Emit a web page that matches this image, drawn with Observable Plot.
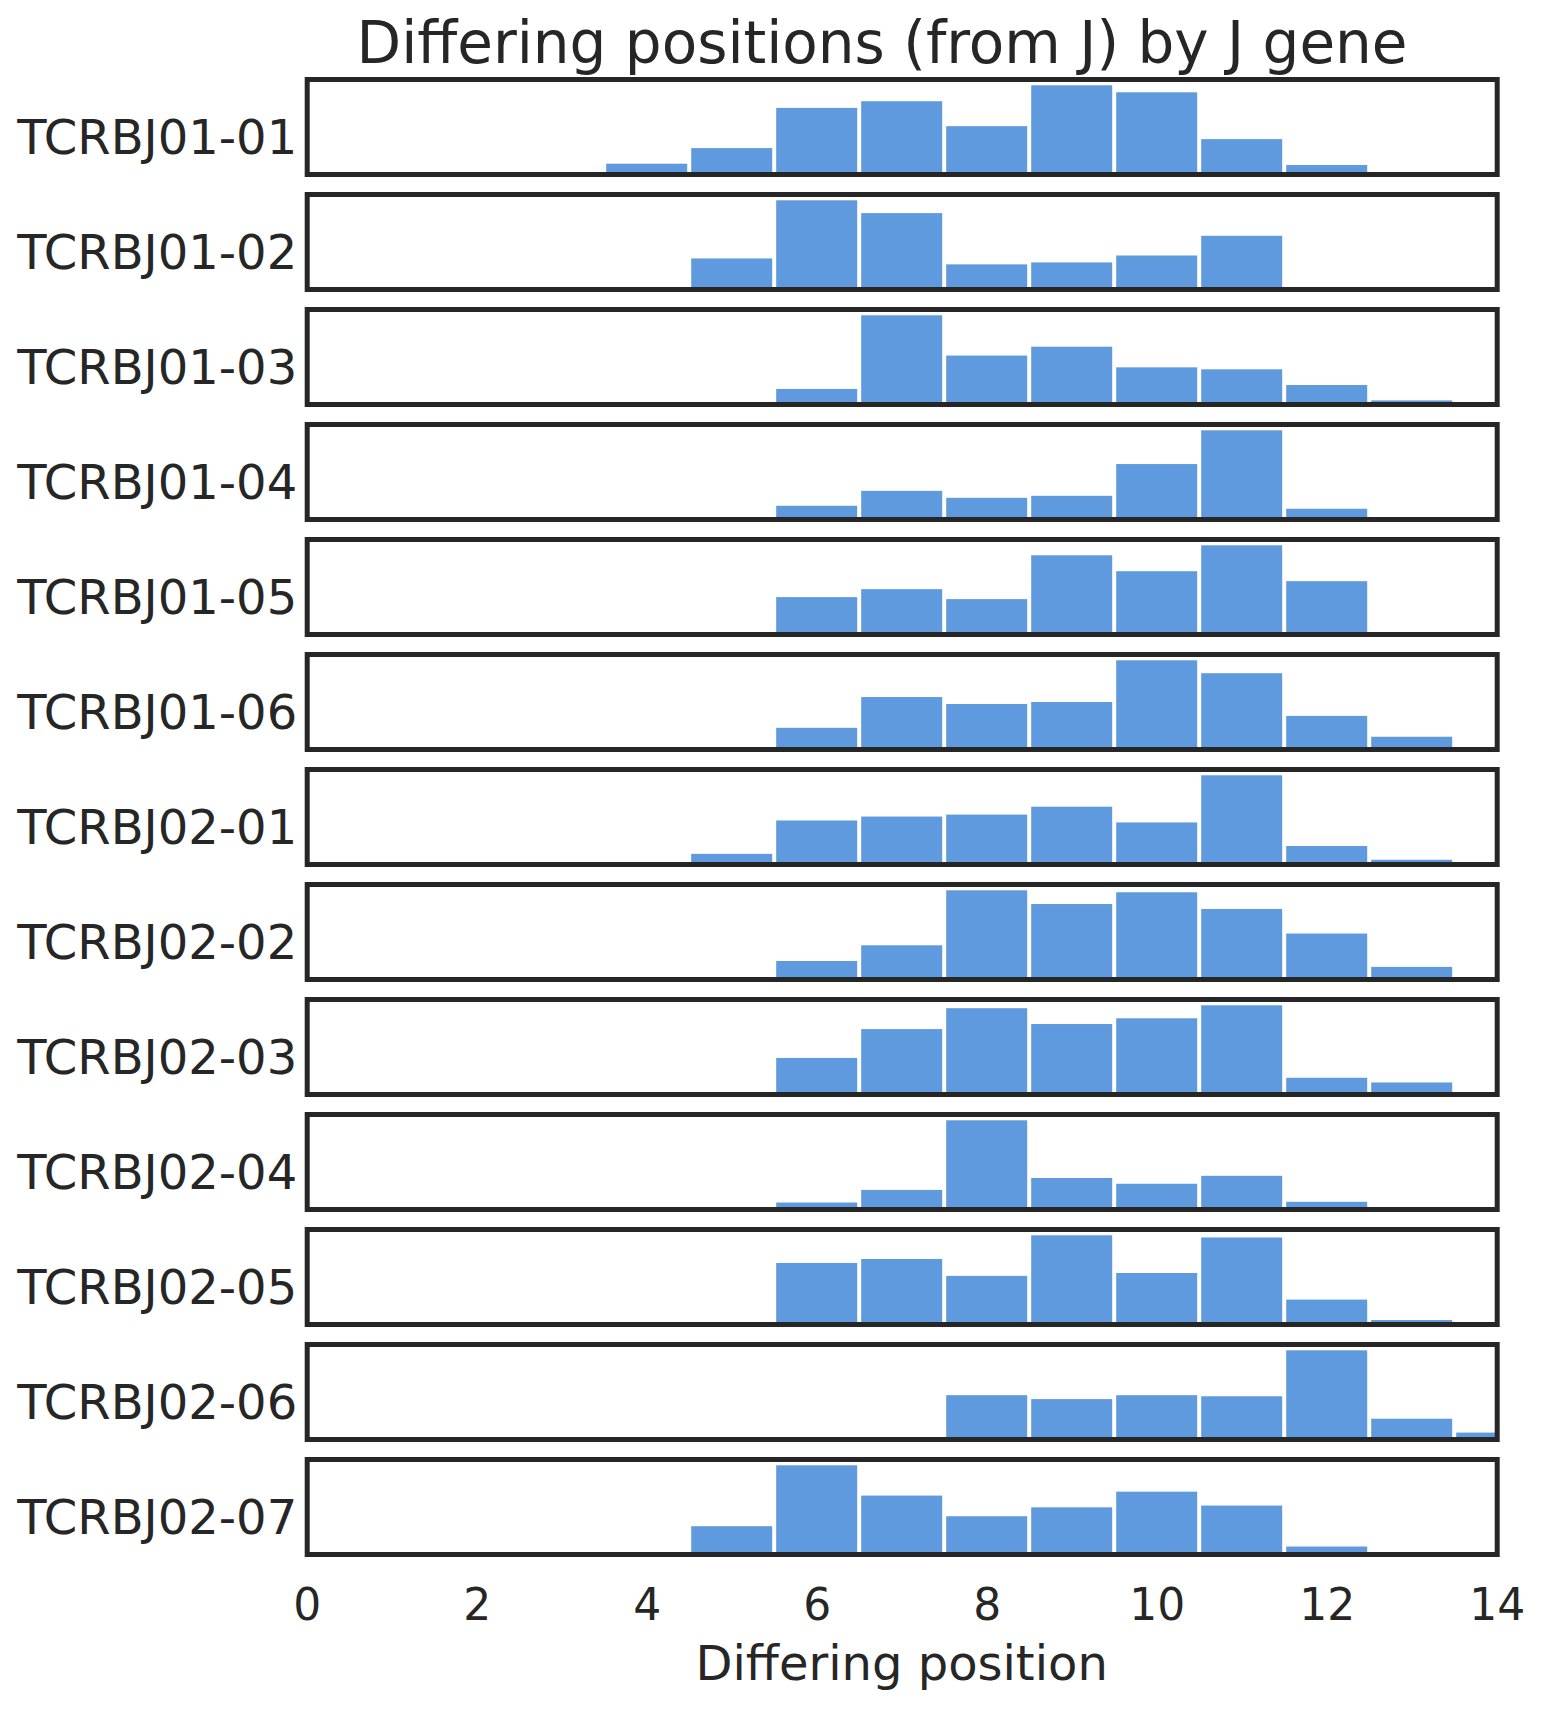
<!DOCTYPE html>
<html>
<head>
<meta charset="utf-8">
<script src="https://cdn.jsdelivr.net/npm/d3@7"></script>
<script src="https://cdn.jsdelivr.net/npm/@observablehq/plot@0.6"></script>
<style>
  body { margin: 0; background: #ffffff; }
  #chart { width: 1544px; height: 1710px; }
</style>
</head>
<body>
<div id="chart"></div>
<script>
// Differing positions (bin centres) and gene names
const positions = [4, 5, 6, 7, 8, 9, 10, 11, 12, 13, 14];
const genes = ["TCRBJ01-01", "TCRBJ01-02", "TCRBJ01-03", "TCRBJ01-04", "TCRBJ01-05", "TCRBJ01-06",
               "TCRBJ02-01", "TCRBJ02-02", "TCRBJ02-03", "TCRBJ02-04", "TCRBJ02-05", "TCRBJ02-06", "TCRBJ02-07"];
const xTicks = [0, 2, 4, 6, 8, 10, 12, 14];

// Estimated relative bar heights (per panel, arbitrary units) for positions 4..14
const j0101 = [31, 78, 199, 219, 144, 267, 246, 105, 27, 0, 0];
const j0102 = [0, 93, 270, 231, 75, 81, 102, 162, 0, 0, 0];
const j0103 = [0, 0, 46, 271, 148, 175, 112, 106, 58, 11, 0];
const j0104 = [0, 0, 40, 85, 64, 70, 166, 268, 31, 0, 0];
const j0105 = [0, 0, 111, 135, 105, 237, 189, 267, 159, 0, 0];
const j0106 = [0, 0, 64, 157, 136, 142, 268, 229, 100, 37, 0];
const j0201 = [0, 31, 133, 145, 151, 175, 127, 271, 55, 13, 0];
const j0202 = [0, 0, 55, 103, 271, 229, 265, 214, 139, 37, 0];
const j0203 = [0, 0, 100, 180, 238, 194, 210, 246, 45, 32, 0];
const j0204 = [0, 0, 18, 53, 246, 86, 70, 92, 20, 0, 0];
const j0205 = [0, 0, 170, 181, 134, 247, 142, 241, 68, 11, 0];
const j0206 = [0, 0, 0, 0, 123, 112, 123, 120, 249, 57, 18];
const j0207 = [0, 78, 249, 164, 106, 131, 175, 136, 21, 0, 0];

const series = [j0101, j0102, j0103, j0104, j0105, j0106, j0201, j0202, j0203, j0204, j0205, j0206, j0207];

// Build a tidy table; each panel has its own y scaling (normalised by its max)
const rows = [];
genes.forEach((g, i) => {
  const vals = series[i];
  const mx = d3.max(vals);
  vals.forEach((v, k) => {
    if (v > 0) rows.push({gene: g, pos: positions[k], share: v / mx});
  });
});

const ink = "#262626";
const plot = Plot.plot({
  width: 1544,
  height: 1710,
  marginTop: 76.5,
  marginBottom: 153.5,
  marginLeft: 306.7,
  marginRight: 47.3,
  style: {fontFamily: "'DejaVu Sans', sans-serif", color: ink, background: "#ffffff", overflow: "visible"},
  x: {domain: [0, 14]},
  y: {domain: [0, 1.071], axis: null},
  fy: {domain: genes, paddingInner: 0.1768, paddingOuter: 0, axis: null},
  marks: [
    Plot.rect(rows, {
      x1: d => d.pos - 0.5,
      x2: d => d.pos + 0.5,
      y1: 0,
      y2: "share",
      fy: "gene",
      fill: "#5f9ade",
      insetLeft: 2,
      insetRight: 2,
      clip: true
    }),
    Plot.frame({stroke: ink, strokeWidth: 5}),
    Plot.axisFy({anchor: "left", tickSize: 0, tickPadding: 10, fontSize: 48, dy: 12, label: null}),
    Plot.axisX({ticks: xTicks, tickSize: 0, tickPadding: 34, fontSize: 44, label: null, tickFormat: d => String(d)})
  ]
});

const svg = d3.select(plot);
svg.append("text")
  .attr("x", 882)
  .attr("y", 63)
  .attr("text-anchor", "middle")
  .attr("font-size", 58)
  .attr("fill", ink)
  .attr("font-family", "'DejaVu Sans', sans-serif")
  .text("Differing positions (from J) by J gene");
svg.append("text")
  .attr("x", 901.7)
  .attr("y", 1680)
  .attr("text-anchor", "middle")
  .attr("font-size", 48)
  .attr("fill", ink)
  .attr("font-family", "'DejaVu Sans', sans-serif")
  .text("Differing position");

document.getElementById("chart").appendChild(plot);
</script>
</body>
</html>
